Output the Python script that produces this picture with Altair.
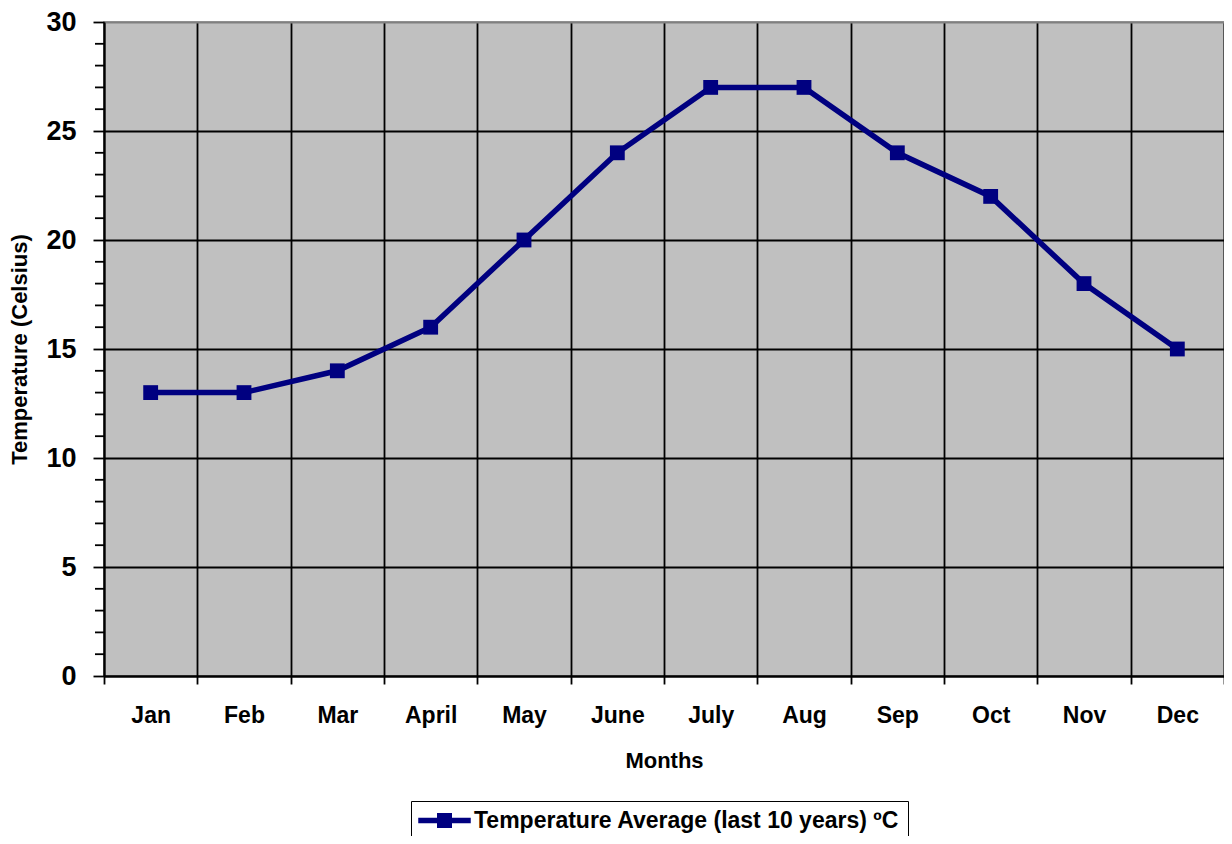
import altair as alt
import pandas as pd

months = ["Jan", "Feb", "Mar", "April", "May", "June",
          "July", "Aug", "Sep", "Oct", "Nov", "Dec"]
temps = [13, 13, 14, 16, 20, 24, 27, 27, 24, 22, 18, 15]
major_ticks = [0, 5, 10, 15, 20, 25, 30]
minor_ticks = [1, 2, 3, 4, 6, 7, 8, 9, 11, 12, 13, 14, 16, 17, 18, 19,
               21, 22, 23, 24, 26, 27, 28, 29]
series_name = "Temperature Average (last 10 years) ºC"

FONT = "Liberation Sans"
NAVY = "#000080"

df = pd.DataFrame({"Month": months, "Temp": temps, "Series": [series_name] * len(months)})
minor_df = pd.DataFrame({"Temp": minor_ticks})

x_enc = alt.X(
    "Month:N",
    sort=months,
    scale=alt.Scale(type="band", paddingInner=0, paddingOuter=0),
    axis=alt.Axis(
        title="Months",
        tickBand="extent",
        grid=True, gridColor="black", gridWidth=1.8,
        domainColor="black", domainWidth=2,
        tickColor="black", tickSize=8, tickWidth=1.8,
        labelAngle=0, labelFont=FONT, labelFontSize=23, labelFontWeight="bold",
        labelColor="black", labelBaseline="alphabetic", labelPadding=38,
        titleFont=FONT, titleFontSize=22, titleFontWeight="bold", titleColor="black",
        titleX=560, titleY=91, titleBaseline="alphabetic", titleAlign="center",
    ),
)

y_axis = alt.Axis(
    title="Temperature (Celsius)",
    values=major_ticks,
    grid=True,
    gridColor={"condition": {"test": "datum.value === 30", "value": "#808080"}, "value": "black"},
    gridWidth=1.8,
    domainColor="black", domainWidth=2,
    tickColor="black", tickSize=11, tickWidth=1.8,
    labelFont=FONT, labelFontSize=27, labelFontWeight="bold", labelColor="black",
    labelPadding=17,
    titleFont=FONT, titleFontSize=22, titleFontWeight="bold", titleColor="black",
    titleX=-78, titleY=327, titleAngle=-90, titleBaseline="alphabetic", titleAlign="center",
)

y_enc = alt.Y(
    "Temp:Q",
    title="Temperature (Celsius)",
    scale=alt.Scale(domain=[0, 30], nice=False, zero=True),
    axis=y_axis,
)

line = alt.Chart(df).mark_line(color=NAVY, strokeWidth=5.5).encode(x=x_enc, y=y_enc)

points = alt.Chart(df).mark_point(shape="square", filled=True, size=220, opacity=1).encode(
    x=alt.X("Month:N", sort=months),
    y=y_enc,
    color=alt.Color(
        "Series:N",
        scale=alt.Scale(domain=[series_name], range=[NAVY]),
        legend=alt.Legend(
            title=None,
            orient="none", legendX=307, legendY=779,
            padding=8, strokeColor="black", fillColor="white", cornerRadius=0,
            symbolType="M-3.5,-0.36H3.5V0.36H-3.5Z M-1,-1H1V1H-1Z",
            symbolSize=225, symbolStrokeWidth=0, symbolOffset=14,
            labelOffset=18, labelFont=FONT, labelFontSize=23, labelFontWeight="bold",
            labelColor="black", labelLimit=0,
        ),
    ),
)

minor = alt.Chart(minor_df).mark_rule(color="black", strokeWidth=1.8).encode(
    y=y_enc,
    x=alt.value(-9),
    x2=alt.value(0),
)

chart = alt.layer(line, points, minor).properties(
    width=1120, height=654,
    autosize=alt.AutoSizeParams(type="none"),
    padding={"left": 96, "top": 14, "right": 0, "bottom": 160},
    background="white",
).configure_view(
    fill="#C0C0C0", stroke="#808080", strokeWidth=1.5,
)

chart.save("out.html", embed_options={"renderer": "svg", "actions": False})
